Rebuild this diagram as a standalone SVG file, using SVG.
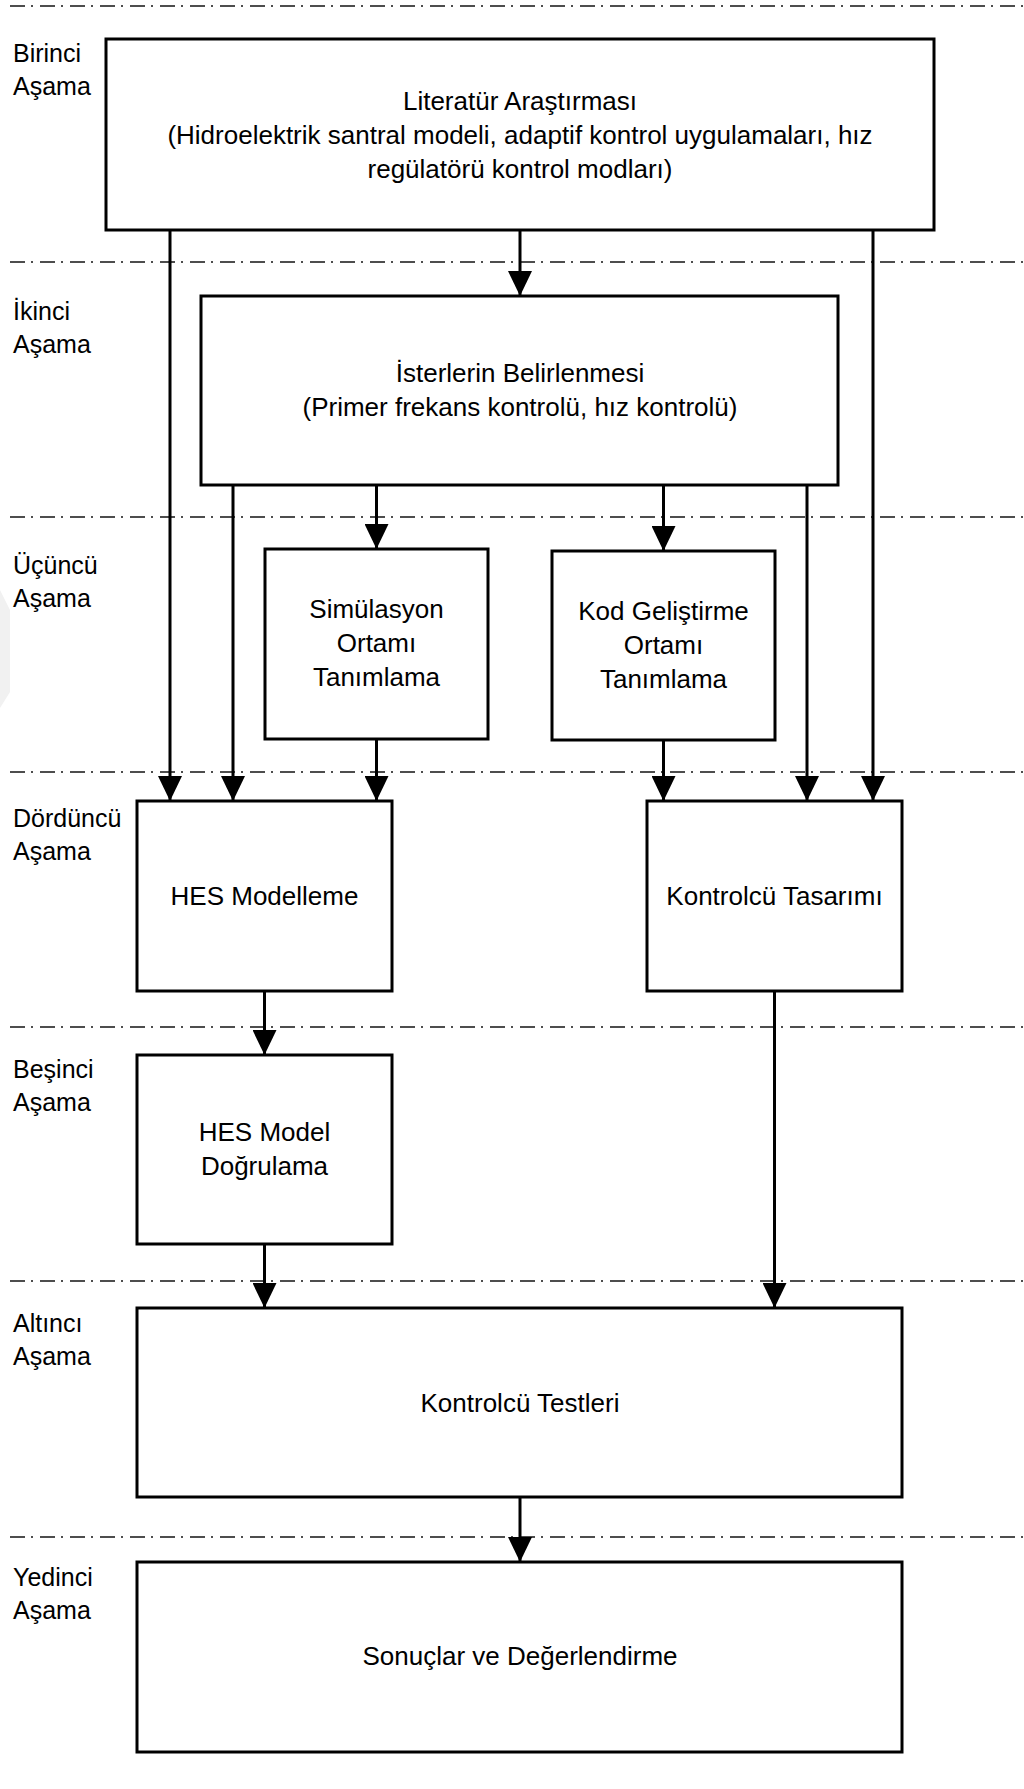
<svg xmlns="http://www.w3.org/2000/svg" width="1024" height="1789" viewBox="0 0 1024 1789">
  <style>
    .stage { stroke: #4d4d4d; stroke-width: 2; stroke-dasharray: 15 6 2 7; fill: none; }
    .box { fill: #ffffff; stroke: #000000; stroke-width: 3; }
    .link { stroke: #000000; stroke-width: 3; fill: none; marker-end: url(#arrow); }
    text { font-family: "Liberation Sans", Arial, sans-serif; font-size: 25px; fill: #000000; }
    .c { text-anchor: middle; font-size: 26px; }
  </style>
  <defs>
    <marker id="arrow" markerUnits="userSpaceOnUse" viewBox="0 0 25 24" markerWidth="25" markerHeight="24" refX="25" refY="12" orient="auto">
      <path d="M0,0 L25,12 L0,24 Z" fill="#000000"/>
    </marker>
  </defs>

  <rect width="1024" height="1789" fill="#ffffff"/>
  <!-- faint mark at the left margin -->
  <polygon points="0,590 10,610 10,692 0,708" fill="#f1f1f1"/>

  <!-- stage separators -->
  <g id="stage-lines">
    <line class="stage" x1="10" y1="6" x2="1024" y2="6"/>
    <line class="stage" x1="10" y1="262" x2="1024" y2="262"/>
    <line class="stage" x1="10" y1="517" x2="1024" y2="517"/>
    <line class="stage" x1="10" y1="772" x2="1024" y2="772"/>
    <line class="stage" x1="10" y1="1027" x2="1024" y2="1027"/>
    <line class="stage" x1="10" y1="1281" x2="1024" y2="1281"/>
    <line class="stage" x1="10" y1="1537" x2="1024" y2="1537"/>
  </g>

  <!-- stage labels -->
  <g id="stage-labels">
    <text x="13" y="62">Birinci</text><text x="13" y="95">Aşama</text>
    <text x="13" y="320">İkinci</text><text x="13" y="353">Aşama</text>
    <text x="13" y="574">Üçüncü</text><text x="13" y="607">Aşama</text>
    <text x="13" y="827">Dördüncü</text><text x="13" y="860">Aşama</text>
    <text x="13" y="1078">Beşinci</text><text x="13" y="1111">Aşama</text>
    <text x="13" y="1332">Altıncı</text><text x="13" y="1365">Aşama</text>
    <text x="13" y="1586">Yedinci</text><text x="13" y="1619">Aşama</text>
  </g>

  <!-- connectors -->
  <g id="connectors">
    <line class="link" x1="170" y1="230" x2="170" y2="801"/>
    <line class="link" x1="520" y1="230" x2="520" y2="296"/>
    <line class="link" x1="873" y1="230" x2="873" y2="801"/>
    <line class="link" x1="233" y1="485" x2="233" y2="801"/>
    <line class="link" x1="376.5" y1="485" x2="376.5" y2="549"/>
    <line class="link" x1="663.5" y1="485" x2="663.5" y2="551"/>
    <line class="link" x1="807" y1="485" x2="807" y2="801"/>
    <line class="link" x1="376.5" y1="739" x2="376.5" y2="801"/>
    <line class="link" x1="663.5" y1="740" x2="663.5" y2="801"/>
    <line class="link" x1="264.5" y1="991" x2="264.5" y2="1055"/>
    <line class="link" x1="774.5" y1="991" x2="774.5" y2="1308"/>
    <line class="link" x1="264.5" y1="1244" x2="264.5" y2="1308"/>
    <line class="link" x1="520" y1="1497" x2="520" y2="1562"/>
  </g>

  <!-- process steps -->
  <g id="literatur">
    <rect class="box" x="106" y="39" width="828" height="191"/>
    <text class="c" x="520" y="110">Literatür Araştırması</text>
    <text class="c" x="520" y="144">(Hidroelektrik santral modeli, adaptif kontrol uygulamaları, hız</text>
    <text class="c" x="520" y="178">regülatörü kontrol modları)</text>
  </g>
  <g id="isterler">
    <rect class="box" x="201" y="296" width="637" height="189"/>
    <text class="c" x="520" y="382">İsterlerin Belirlenmesi</text>
    <text class="c" x="520" y="416">(Primer frekans kontrolü, hız kontrolü)</text>
  </g>
  <g id="simulasyon">
    <rect class="box" x="265" y="549" width="223" height="190"/>
    <text class="c" x="376.5" y="618">Simülasyon</text>
    <text class="c" x="376.5" y="652">Ortamı</text>
    <text class="c" x="376.5" y="686">Tanımlama</text>
  </g>
  <g id="kod-gelistirme">
    <rect class="box" x="552" y="551" width="223" height="189"/>
    <text class="c" x="663.5" y="620">Kod Geliştirme</text>
    <text class="c" x="663.5" y="654">Ortamı</text>
    <text class="c" x="663.5" y="688">Tanımlama</text>
  </g>
  <g id="hes-modelleme">
    <rect class="box" x="137" y="801" width="255" height="190"/>
    <text class="c" x="264.5" y="905">HES Modelleme</text>
  </g>
  <g id="kontrolcu-tasarimi">
    <rect class="box" x="647" y="801" width="255" height="190"/>
    <text class="c" x="774.5" y="905">Kontrolcü Tasarımı</text>
  </g>
  <g id="hes-dogrulama">
    <rect class="box" x="137" y="1055" width="255" height="189"/>
    <text class="c" x="264.5" y="1141">HES Model</text>
    <text class="c" x="264.5" y="1175">Doğrulama</text>
  </g>
  <g id="kontrolcu-testleri">
    <rect class="box" x="137" y="1308" width="765" height="189"/>
    <text class="c" x="520" y="1412">Kontrolcü Testleri</text>
  </g>
  <g id="sonuclar">
    <rect class="box" x="137" y="1562" width="765" height="190"/>
    <text class="c" x="520" y="1665">Sonuçlar ve Değerlendirme</text>
  </g>
</svg>
